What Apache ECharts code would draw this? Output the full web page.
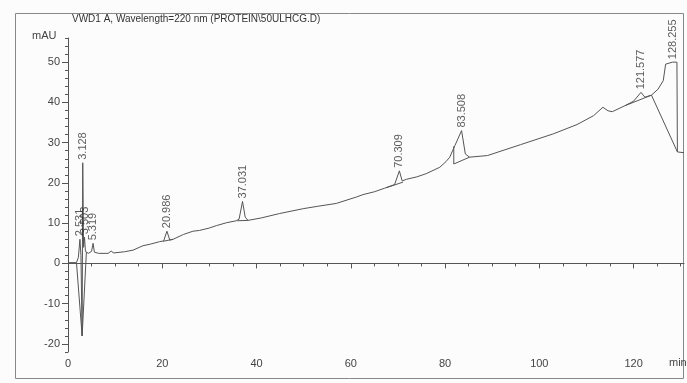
<!DOCTYPE html>
<html>
<head>
<meta charset="utf-8">
<script src="https://cdn.jsdelivr.net/npm/echarts@6/dist/echarts.min.js"></script>
<style>
  html, body { margin: 0; padding: 0; background: #fcfcfc; }
  #chart { width: 687px; height: 383px; }
</style>
</head>
<body>
<div id="chart"></div>
<script>
// signal trace (retention time in min, absorbance in mAU)
var traceTime = [0, 1.8, 2.2, 2.531, 2.75, 3.0, 3.128, 3.3, 3.503, 3.7, 4.3, 5.0, 5.319, 5.6, 6.5, 8.5, 9.2, 9.6,
    12, 13.8, 15.9, 17.5, 19.4, 20.3, 20.986, 21.6, 22.3, 24.5, 26.5, 27.9, 30.0, 31.5, 33.6, 35.7, 36.3,
    37.031, 37.6, 38.2, 41, 44.9, 49.9, 53, 56.9, 61.2, 62.6, 65, 67.2, 69.3, 70.309, 70.9, 71.1, 71.8,
    74, 76.0, 78.9, 80.2, 81.0, 82.1, 83.508, 84.3, 85.2, 89, 96, 103, 108, 111.5, 113.5, 114.6, 115.5,
    118.2, 120, 121.577, 122.4, 123.8, 125.2, 126.3, 126.8, 128.255, 129.2, 129.3, 130.7];
var traceMAU = [0.2, 0.2, 1.5, 6, 2, -18, 25, 4, 6.5, 3, 2.5, 3, 5, 2.8, 2.5, 2.5, 3.1, 2.6,
    2.9, 3.3, 4.4, 4.8, 5.4, 5.6, 8, 5.8, 6, 7.2, 8.0, 8.2, 8.8, 9.4, 10.1, 10.6, 11,
    15.4, 11.5, 10.7, 11.3, 12.4, 13.6, 14.2, 14.9, 16.5, 17.1, 17.8, 18.7, 19.6, 23, 20.5, 20.2, 20.9,
    21.5, 22.3, 23.9, 25.3, 26.4, 29.3, 33, 27.2, 26.4, 26.8, 29.5, 32.2, 34.5, 36.7, 38.8, 37.9, 37.7,
    39.2, 40.3, 42.5, 41.3, 41.8, 43.3, 45.4, 49.5, 50, 50, 27.7, 27.5];

// integration baselines drawn under the peaks
var baselines = [
    [[1.8, 0.2], [3.0, -18], [3.9, 2.8]],
    [[20.2, 5.5], [22.3, 6]],
    [[35.9, 10.6], [38.2, 10.7]],
    [[67.5, 18.8], [71.1, 20.2]],
    [[81.85, 29.1], [81.85, 24.7], [85.2, 26.4]],
    [[118.2, 39.2], [123.8, 41.8]],
    [[123.8, 41.8], [129.3, 27.7]]
];

// peak apexes and their labels
var peakTimes = [2.531, 3.128, 3.503, 5.319, 20.986, 37.031, 70.309, 83.508, 121.577, 128.255];
var peakTops = [6, 25, 6.5, 5, 8, 15.4, 23, 33, 42.5, 50];
var peakLabels = ['2.531', '3.128', '3.503', '5.319', '20.986', '37.031', '70.309', '83.508', '121.577', '128.255'];

// axis ticks
var xMajor = [0, 20, 40, 60, 80, 100, 120];
var xMinor = [5, 10, 15, 25, 30, 35, 45, 50, 55, 65, 70, 75, 85, 90, 95, 105, 110, 115, 125, 130];
var yMajor = [-20, -10, 0, 10, 20, 30, 40, 50];
var yMinor = [-22, -18, -16, -14, -12, -8, -6, -4, -2, 2, 4, 6, 8, 12, 14, 16, 18, 22, 24, 26, 28,
    32, 34, 36, 38, 42, 44, 46, 48, 52, 54, 56];

var ink = '#555';
var font = 'Liberation Sans, Arial, sans-serif';

var trace = traceTime.map(function (t, i) { return [t, traceMAU[i]]; });
var baseData = [];
baselines.forEach(function (seg, i) {
    if (i > 0) baseData.push(['-', '-']);
    seg.forEach(function (p) { baseData.push(p); });
});
var peaks = peakTimes.map(function (t, i) { return [t, peakTops[i]]; });

var myChart = echarts.init(document.getElementById('chart'));

var axisCommon = {
    type: 'value',
    min: 0,
    max: 130.7,
    splitLine: { show: false }
};
var yCommon = {
    type: 'value',
    min: -22,
    max: 56,
    splitLine: { show: false }
};

option = {
    backgroundColor: '#fcfcfc',
    animation: false,
    grid: { left: 68, right: 3, top: 38, bottom: 31 },
    xAxis: [
        Object.assign({}, axisCommon, {
            position: 'bottom',
            axisLine: { lineStyle: { color: ink, width: 1 } },
            axisTick: { customValues: xMajor, length: 5, lineStyle: { color: ink } },
            axisLabel: { customValues: xMajor, margin: 6, color: '#444', fontSize: 11, fontFamily: font }
        }),
        Object.assign({}, axisCommon, {
            position: 'bottom',
            axisLine: { show: false },
            axisTick: { customValues: xMinor, length: 3, lineStyle: { color: ink } },
            axisLabel: { show: false }
        })
    ],
    yAxis: [
        Object.assign({}, yCommon, {
            position: 'left',
            axisLine: { show: true, lineStyle: { color: ink, width: 1 } },
            axisTick: { customValues: yMajor, length: 6, lineStyle: { color: ink } },
            axisLabel: { customValues: yMajor, margin: 8, color: '#444', fontSize: 11, fontFamily: font }
        }),
        Object.assign({}, yCommon, {
            position: 'left',
            axisLine: { show: false },
            axisTick: { customValues: yMinor, length: 3, lineStyle: { color: ink } },
            axisLabel: { show: false }
        })
    ],
    graphic: [
        {
            type: 'rect',
            shape: { x: 15.5, y: 13.5, width: 668, height: 365 },
            style: { fill: null, stroke: '#888', lineWidth: 1 },
            silent: true
        },
        {
            type: 'text',
            left: 72,
            top: 14,
            style: { text: 'VWD1 A, Wavelength=220 nm (PROTEIN\\50ULHCG.D)', fill: '#333', font: '10px ' + font }
        },
        {
            type: 'text',
            left: 32,
            top: 30,
            style: { text: 'mAU', fill: '#444', font: '11px ' + font }
        },
        {
            type: 'text',
            left: 669,
            top: 357,
            style: { text: 'min', fill: '#444', font: '11px ' + font }
        }
    ],
    series: [
        {
            name: 'signal',
            type: 'line',
            data: trace,
            showSymbol: false,
            lineStyle: { color: ink, width: 1 },
            z: 3
        },
        {
            name: 'baseline',
            type: 'line',
            data: baseData,
            showSymbol: false,
            connectNulls: false,
            lineStyle: { color: ink, width: 1 },
            z: 2
        },
        {
            name: 'peaks',
            type: 'scatter',
            data: peaks,
            symbolSize: 0,
            label: {
                show: true,
                position: 'top',
                distance: 3,
                rotate: 90,
                align: 'left',
                verticalAlign: 'middle',
                color: '#333',
                fontSize: 11,
                fontFamily: font,
                formatter: function (p) { return peakLabels[p.dataIndex]; }
            },
            z: 4
        }
    ]
};

myChart.setOption(option);
</script>
</body>
</html>
